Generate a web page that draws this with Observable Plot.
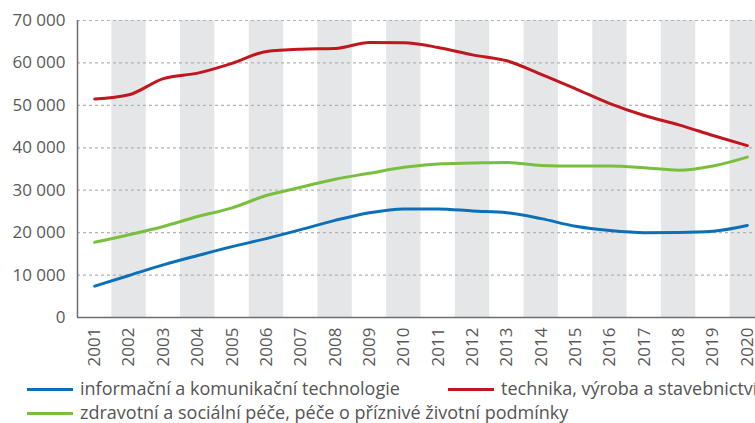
<!DOCTYPE html>
<html><head><meta charset="utf-8">
<script src="https://cdn.jsdelivr.net/npm/d3@7"></script>
<script src="https://cdn.jsdelivr.net/npm/@observablehq/plot@0.6"></script>
<style>
html,body{margin:0;padding:0;background:#fff;overflow:hidden;width:755px;height:423px}
#chart{width:770px;height:372px}
#legend{width:800px;font-family:"Open Sans",sans-serif;font-size:18px;line-height:22px;color:#555;padding-left:27px;padding-top:4px;box-sizing:border-box;white-space:nowrap}
.row{display:flex;height:24px;align-items:center}
.item{display:flex;align-items:center}
.sw{width:46px;height:3px;margin-right:7px;flex:none;position:relative;top:1px}
</style></head><body>
<div id="chart"></div>
<div id="legend"></div>
<script>
const years = [2001,2002,2003,2004,2005,2006,2007,2008,2009,2010,2011,2012,2013,2014,2015,2016,2017,2018,2019,2020];
const ict    = [7400,9900,12400,14600,16700,18600,20700,22900,24700,25600,25600,25100,24700,23300,21500,20500,20000,20050,20350,21700];
const tech   = [51500,52500,56300,57600,59900,62700,63250,63400,64800,64750,63650,61900,60500,57300,53900,50400,47600,45400,42900,40500];
const health = [17750,19500,21450,23800,25850,28750,30700,32600,34000,35400,36200,36400,36550,35850,35700,35700,35300,34700,35700,37800];
const yTicks = [0,10000,20000,30000,40000,50000,60000,70000];
const seriesNames = ["informační a komunikační technologie","technika, výroba a stavebnictví","zdravotní a sociální péče, péče o příznivé životní podmínky"];
const seriesColors = ["#0b70b8","#c2161f","#79bf3e"];
const seriesValues = [ict, tech, health];

const data = [];
seriesValues.forEach((vals, i) => vals.forEach((v, j) => data.push({series: seriesNames[i], year: years[j], value: v})));
const bands = years.filter(y => y % 2 === 0);
const fmt = d3.formatLocale({thousands: " ", grouping: [3], decimal: ","}).format(",");

const chart = Plot.plot({
  width: 770,
  height: 372,
  marginLeft: 77,
  marginRight: 6,
  marginTop: 20,
  marginBottom: 55,
  style: {fontFamily: "Open Sans, sans-serif", fontSize: "17px", background: "#fff"},
  x: {domain: [2000.5, 2020.5], label: null},
  y: {domain: [0, 70000], label: null},
  color: {domain: seriesNames, range: seriesColors},
  marks: [
    Plot.rectY(bands, {x1: d => d - 0.5, x2: d => d + 0.5, y1: 0, y2: 70000, fill: "#e5e6e8"}),
    Plot.ruleY(yTicks.filter(v => v > 0), {stroke: "#b3b3b3", strokeWidth: 1.2, strokeDasharray: "3,3"}),
    Plot.line(data, {x: "year", y: "value", z: "series", stroke: "series", strokeWidth: 3, curve: "monotone-x"}),
    Plot.ruleX([2000.5], {stroke: "#6e6e6e", strokeWidth: 1.5}),
    Plot.ruleY([0], {stroke: "#6e6e6e", strokeWidth: 1.5}),
    Plot.axisY({ticks: yTicks, tickSize: 0, tickPadding: 12, tickFormat: fmt, fontSize: 17, fill: "#595959", label: null}),
    Plot.axisX({ticks: years, tickSize: 0, tickPadding: 10, tickRotate: -90, tickFormat: d => String(d), fontSize: 17, fill: "#595959", label: null})
  ]
});
document.getElementById("chart").appendChild(chart);

const legend = document.getElementById("legend");
const rows = [[0, 1], [2]];
const widths = [421, 400];
rows.forEach(r => {
  const row = document.createElement("div");
  row.className = "row";
  r.forEach((idx, k) => {
    const item = document.createElement("div");
    item.className = "item";
    if (k === 0 && r.length > 1) item.style.width = widths[0] + "px";
    const sw = document.createElement("span");
    sw.className = "sw";
    sw.style.background = seriesColors[idx];
    const t = document.createElement("span");
    t.textContent = seriesNames[idx];
    item.appendChild(sw); item.appendChild(t);
    row.appendChild(item);
  });
  legend.appendChild(row);
});
</script>
</body></html>
